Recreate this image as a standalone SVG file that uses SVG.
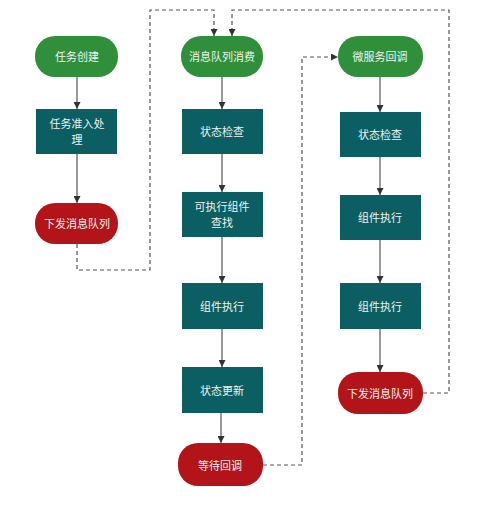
<svg xmlns="http://www.w3.org/2000/svg" width="500" height="519" viewBox="0 0 500 519">
<defs>
<style>
.start{fill:#2f8f3a;}
.proc{fill:#0b5e62;}
.end{fill:#b31419;}
.t{font-family:"Noto Sans CJK SC","Liberation Sans",sans-serif;font-size:11px;fill:#eef3ee;text-anchor:middle;dominant-baseline:central;}
.solid{stroke:#555;stroke-width:1.2;fill:none;marker-end:url(#arr);}
.dash{stroke:#555;stroke-width:1.2;fill:none;stroke-dasharray:4 3;marker-end:url(#arr);}
</style>
<marker id="arr" viewBox="0 0 10 10" refX="10" refY="5" markerWidth="7" markerHeight="7" markerUnits="userSpaceOnUse" orient="auto">
<path d="M0,0 L10,5 L0,10 z" fill="#333"/>
</marker>
</defs>
<rect width="500" height="519" fill="#fff"/>
<g id="connectors">
<line class="solid" x1="77" y1="77" x2="77" y2="109"/>
<line class="solid" x1="77" y1="154" x2="77" y2="203"/>
<line class="solid" x1="222" y1="77" x2="222" y2="109"/>
<line class="solid" x1="222" y1="154" x2="222" y2="192"/>
<line class="solid" x1="222" y1="237" x2="222" y2="283"/>
<line class="solid" x1="222" y1="329" x2="222" y2="367"/>
<line class="solid" x1="221" y1="413" x2="221" y2="443"/>
<line class="solid" x1="380" y1="77" x2="380" y2="112"/>
<line class="solid" x1="380" y1="157" x2="380" y2="195"/>
<line class="solid" x1="380" y1="240" x2="380" y2="283"/>
<line class="solid" x1="380" y1="329" x2="380" y2="372"/>
<path class="dash" d="M77,244 V270 H150 V10 H214 V36"/>
<path class="dash" d="M263,465 H302 V57 H338"/>
<path class="dash" d="M423,393 H449 V10 H232 V36"/>
</g>
<g id="n1"><rect class="start" x="35" y="36" width="83" height="41" rx="20"/><text class="t" x="77" y="56">任务创建</text></g>
<g id="n2"><rect class="proc" x="36" y="109" width="81" height="45"/><text class="t" x="77" y="123">任务准入处</text><text class="t" x="77" y="139">理</text></g>
<g id="n3"><rect class="end" x="35" y="203" width="83" height="41" rx="20"/><text class="t" x="77" y="223">下发消息队列</text></g>
<g id="n4"><rect class="start" x="181" y="36" width="82" height="41" rx="20"/><text class="t" x="222" y="56">消息队列消费</text></g>
<g id="n5"><rect class="proc" x="182" y="109" width="81" height="45"/><text class="t" x="222" y="131">状态检查</text></g>
<g id="n6"><rect class="proc" x="182" y="192" width="81" height="45"/><text class="t" x="222" y="206">可执行组件</text><text class="t" x="222" y="222">查找</text></g>
<g id="n7"><rect class="proc" x="182" y="283" width="81" height="46"/><text class="t" x="222" y="306">组件执行</text></g>
<g id="n8"><rect class="proc" x="182" y="367" width="81" height="46"/><text class="t" x="222" y="390">状态更新</text></g>
<g id="n9"><rect class="end" x="178" y="443" width="85" height="43" rx="20"/><text class="t" x="220" y="465">等待回调</text></g>
<g id="n10"><rect class="start" x="338" y="36" width="85" height="41" rx="20"/><text class="t" x="380" y="56">微服务回调</text></g>
<g id="n11"><rect class="proc" x="340" y="112" width="81" height="45"/><text class="t" x="380" y="134">状态检查</text></g>
<g id="n12"><rect class="proc" x="340" y="195" width="81" height="45"/><text class="t" x="380" y="217">组件执行</text></g>
<g id="n13"><rect class="proc" x="340" y="283" width="81" height="46"/><text class="t" x="380" y="306">组件执行</text></g>
<g id="n14"><rect class="end" x="338" y="372" width="85" height="42" rx="20"/><text class="t" x="380" y="393">下发消息队列</text></g>
</svg>
